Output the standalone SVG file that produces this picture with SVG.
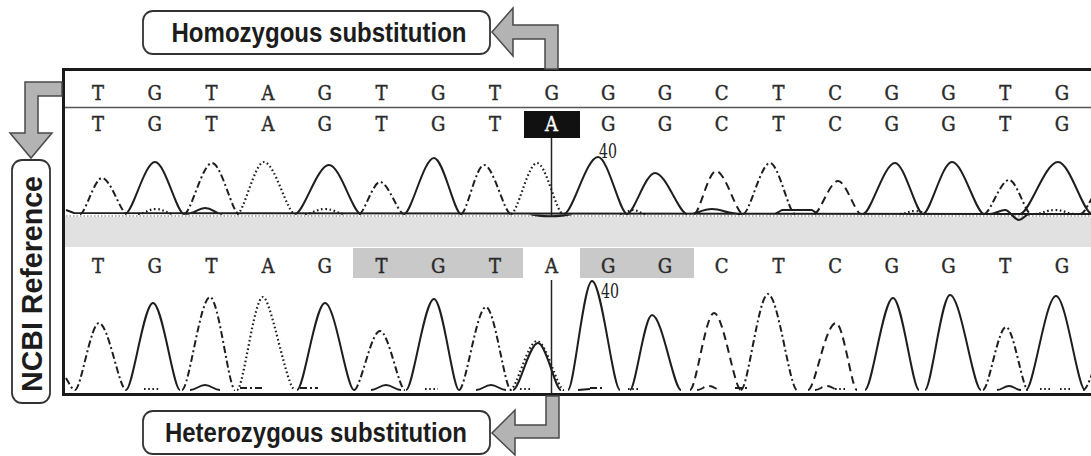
<svg xmlns="http://www.w3.org/2000/svg" width="1091" height="456" viewBox="0 0 1091 456">
<defs>
<style>
.lbl{font-family:"Liberation Sans",Arial,sans-serif;font-weight:bold;font-size:28px;fill:#1c1c1c}
.box{fill:#fff;stroke:#333;stroke-width:1.8}
.seq{font-family:"DejaVu Serif Condensed","DejaVu Serif","Liberation Mono",serif;font-stretch:condensed;font-size:20px;fill:#2a2a2a;text-anchor:middle;stroke:#2a2a2a;stroke-width:0.4}
.num{font-family:"DejaVu Serif Condensed","DejaVu Serif",serif;font-stretch:condensed;font-size:20px;fill:#222}
.arrow{fill:#b3b3b3;stroke:#4a4a4a;stroke-width:1.5;stroke-linejoin:miter}
.tr{fill:none;stroke:#1e1e1e;stroke-width:2;stroke-linejoin:round}
.g{}
.a{stroke-dasharray:1.6 2.6;stroke-width:2.2}
.t{stroke-dasharray:7 3 2 3}
.c{stroke-dasharray:8 5}
.base{fill:none;stroke:#666;stroke-width:1.2;stroke-dasharray:1.5 2}
</style>
<clipPath id="panel"><rect x="65" y="71" width="1030" height="322"/></clipPath>
</defs>
<rect width="1091" height="456" fill="#fff"/>

<g id="chromatogram">
<rect x="65" y="217" width="1030" height="30" fill="#e1e1e1"/>
<rect x="353" y="248" width="170" height="30" fill="#c9c9c9"/>
<rect x="580" y="248" width="114" height="30" fill="#c9c9c9"/>
<rect x="524" y="111" width="56" height="27" fill="#111"/>
<line x1="65" y1="107.5" x2="1091" y2="107.5" stroke="#555" stroke-width="1.5"/>
<line x1="551.5" y1="138" x2="551.5" y2="216" stroke="#222" stroke-width="1.5"/>
<line x1="551.5" y1="280" x2="551.5" y2="395" stroke="#222" stroke-width="1.5"/>

<g id="seq-ref">
<text class="seq" x="98" y="100">T</text><text class="seq" x="154.7" y="100">G</text><text class="seq" x="211.4" y="100">T</text><text class="seq" x="268.1" y="100">A</text><text class="seq" x="324.8" y="100">G</text><text class="seq" x="381.5" y="100">T</text><text class="seq" x="438.2" y="100">G</text><text class="seq" x="494.9" y="100">T</text><text class="seq" x="551.6" y="100">G</text><text class="seq" x="608.3" y="100">G</text><text class="seq" x="665" y="100">G</text><text class="seq" x="721.7" y="100">C</text><text class="seq" x="778.4" y="100">T</text><text class="seq" x="835.1" y="100">C</text><text class="seq" x="891.8" y="100">G</text><text class="seq" x="948.5" y="100">G</text><text class="seq" x="1005.2" y="100">T</text><text class="seq" x="1061.9" y="100">G</text>
</g>
<g id="seq-homo">
<text class="seq" x="98" y="131">T</text><text class="seq" x="154.7" y="131">G</text><text class="seq" x="211.4" y="131">T</text><text class="seq" x="268.1" y="131">A</text><text class="seq" x="324.8" y="131">G</text><text class="seq" x="381.5" y="131">T</text><text class="seq" x="438.2" y="131">G</text><text class="seq" x="494.9" y="131">T</text><text class="seq" x="551.6" y="131" style="fill:#fff;stroke:#fff">A</text><text class="seq" x="608.3" y="131">G</text><text class="seq" x="665" y="131">G</text><text class="seq" x="721.7" y="131">C</text><text class="seq" x="778.4" y="131">T</text><text class="seq" x="835.1" y="131">C</text><text class="seq" x="891.8" y="131">G</text><text class="seq" x="948.5" y="131">G</text><text class="seq" x="1005.2" y="131">T</text><text class="seq" x="1061.9" y="131">G</text>
</g>
<g id="seq-hetero">
<text class="seq" x="98" y="273">T</text><text class="seq" x="154.7" y="273">G</text><text class="seq" x="211.4" y="273">T</text><text class="seq" x="268.1" y="273">A</text><text class="seq" x="324.8" y="273">G</text><text class="seq" x="381.5" y="273">T</text><text class="seq" x="438.2" y="273">G</text><text class="seq" x="494.9" y="273">T</text><text class="seq" x="551.6" y="273">A</text><text class="seq" x="608.3" y="273">G</text><text class="seq" x="665" y="273">G</text><text class="seq" x="721.7" y="273">C</text><text class="seq" x="778.4" y="273">T</text><text class="seq" x="835.1" y="273">C</text><text class="seq" x="891.8" y="273">G</text><text class="seq" x="948.5" y="273">G</text><text class="seq" x="1005.2" y="273">T</text><text class="seq" x="1061.9" y="273">G</text>
</g>

<g clip-path="url(#panel)">
<path class="base" d="M66,216 H1091"/>
<path class="tr g" d="M66,210 L74,213 L1091,214 M186,214 C195,214 198,208 205,208 C213,208 215,214 222,214 M690,214 C697,214 702,209 712,209 C722,209 728,214 742,214 M775,214 L782,210 L812,210 L818,214 M990,214 C995,214 1000,210 1005,210 C1010,210 1014,220 1019,220 C1023,220 1025,214 1030,214 M530,214 C540,217 560,217 572,214"/>
<path class="tr g" d="M125,214 C132.5,214 144.5,162 155,162 C165.2,162 176.8,214 184,214 M295,214 C303.5,214 317.1,165 329,165 C340.2,165 353,214 361,214 M404,214 C411.5,214 423.5,158 434,158 C443.5,158 454.3,214 461,214 M564,214 C572.5,214 586.1,157 598,157 C608.2,157 619.8,214 627,214 M627,214 C634,214 645.2,173 655,173 C666.2,173 679,214 687,214 M863,214 C871,214 883.8,163 895,163 C904.8,163 916,214 923,214 M923,214 C930.3,214 941.9,162 952,162 C963.2,162 976,214 984,214 M1020,214 C1029.5,214 1044.7,162 1058,162 C1069.9,162 1083.5,214 1092,214"/>
<path class="tr a" d="M237,214 C243.8,214 254.6,162 264,162 C274.9,162 287.3,214 295,214 M511,214 C517.5,214 527.9,163 537,163 C546.1,163 556.5,214 563,214 M138,214 C145,214 148,209 156,209 C164,209 167,214 174,214 M305,214 C312,214 316,209 325,209 C334,209 338,214 345,214 M620,214 C626,214 628,210 633,210 C638,210 640,214 646,214 M1035,214 C1042,214 1046,210 1055,210 C1064,210 1068,214 1075,214 M900,214 C906,214 908,211 915,211 C922,211 924,214 930,214"/>
<path class="tr t" d="M80,214 C85.5,214 94.3,178 102,178 C110.8,178 120.8,214 127,214 M184,214 C191,214 202.2,163 212,163 C221.5,163 232.3,214 239,214 M359,214 C364.3,214 372.7,182 380,182 C388.4,182 398,214 404,214 M461,214 C466.8,214 476,165 484,165 C493.5,165 504.3,214 511,214 M743,214 C749.8,214 760.6,163 770,163 C778.8,163 788.8,214 795,214 M984,214 C990.3,214 1000.3,180 1009,180 C1016.7,180 1025.5,214 1031,214 M1080,214 C1084,214 1088,205 1092,198"/>
<path class="tr c" d="M694,214 C699.5,214 708.3,171 716,171 C725.5,171 736.3,214 743,214 M814,214 C820,214 829.6,181 838,181 C846.1,181 855.3,214 861,214"/>

<path class="tr g" d="M126,390 C132.8,390 143.6,303 153,303 C162.5,303 173.3,390 180,390 M297,390 C304,390 315.2,303 325,303 C335.2,303 346.8,390 354,390 M406,390 C413,390 424.2,299 434,299 C442.8,299 452.8,390 459,390 M513,390 C519.3,390 529.3,343 538,343 C546.1,343 555.3,390 561,390 M568,390 C574,390 583.6,281 592,281 C601.8,281 613,390 620,390 M630,390 C635.5,390 644.3,315 652,315 C662.2,315 673.8,390 681,390 M865,390 C872,390 883.2,298 893,298 C902.1,298 912.5,390 919,390 M925,390 C931.3,390 941.3,295 950,295 C960.9,295 973.3,390 981,390 M1026,390 C1033.5,390 1045.5,296 1056,296 C1066.2,296 1077.8,390 1085,390 M190,390 C196,390 199,385 205,385 C211,385 214,390 220,390 M371,390 C377,390 380,385 386,385 C392,385 395,390 401,390 M476,390 C482,390 485,385 491,385 C497,385 500,390 506,390 M997,390 C1002,390 1004,386 1009,386 C1014,386 1016,390 1021,390 M578,390 L590,389"/>
<path class="tr a" d="M237,390 C243.5,390 253.9,297 263,297 C271,297 287,390 295,390 M510,390 C516.8,390 527.6,341 537,341 C546.5,341 557.3,390 564,390 M144,389 L160,389 M425,389 L438,389 M520,389 L530,389 M628,389 L638,389 M835,389 L845,389 M1040,389 L1050,389 M1060,389 L1070,389"/>
<path class="tr t" d="M66,378 C69,383 72,390 75,390 M75,390 C81,390 90.6,323 99,323 C108.5,323 119.3,390 126,390 M182,390 C189,390 200.2,297 210,297 C218.8,297 228.8,390 235,390 M354,390 C360.5,390 370.9,331 380,331 C388.8,331 398.8,390 405,390 M459,390 C465.8,390 476.6,307 486,307 C494.8,307 504.8,390 511,390 M741,390 C747.8,390 758.6,294 768,294 C778.2,294 789.8,390 797,390 M983,390 C988.8,390 998,327 1006,327 C1013.7,327 1022.5,390 1028,390 M1083,390 C1086,390 1089,382 1092,374 M240,388 L262,388 M300,388 L318,388 M735,388 L748,388 M590,388 L605,388"/>
<path class="tr c" d="M690,390 C696,390 705.6,313 714,313 C723.5,313 734.3,390 741,390 M808,390 C815,390 825.2,323 836,323 C843.4,323 851.8,390 857,390 M697,390 C702,390 704,386 709,386 C714,386 716,390 721,390 M815,390 C820,390 822,386 827,386 C832,386 834,390 839,390"/>
</g>

<text class="num" x="599" y="158" textLength="18" lengthAdjust="spacingAndGlyphs">40</text>
<text class="num" x="601" y="298" textLength="18" lengthAdjust="spacingAndGlyphs">40</text>

<path d="M1091,69.5 H63.5 V394.5 H1091" fill="none" stroke="#1a1a1a" stroke-width="3"/>
</g>

<g id="connectors">
<path id="arrow-homo" class="arrow" d="M558,69 V25 H513 V8 L492,32 L513,56 V39 H545 V69 Z"/>
<path id="arrow-hetero" class="arrow" d="M559,396 V438 H515 V455 L492,433 L515,410 V425 H546 V396 Z"/>
<path id="arrow-ncbi" class="arrow" d="M62,82 H25 V133 H10 L31,158 L52,133 H38 V96 H62 Z"/>
</g>

<g id="homozygous">
<rect class="box" x="143" y="11" width="347" height="43" rx="10"/>
<text class="lbl" x="319" y="42" text-anchor="middle" textLength="295" lengthAdjust="spacingAndGlyphs">Homozygous substitution</text>
</g>
<g id="heterozygous">
<rect class="box" x="143" y="411" width="347" height="43" rx="10"/>
<text class="lbl" x="316" y="442" text-anchor="middle" textLength="302" lengthAdjust="spacingAndGlyphs">Heterozygous substitution</text>
</g>
<g id="ncbi-reference">
<rect class="box" x="12" y="160" width="38" height="243" rx="10"/>
<text class="lbl" transform="translate(42,284) rotate(-90)" x="0" y="0" text-anchor="middle" style="font-size:29px" textLength="216" lengthAdjust="spacingAndGlyphs">NCBI Reference</text>
</g>
</svg>
